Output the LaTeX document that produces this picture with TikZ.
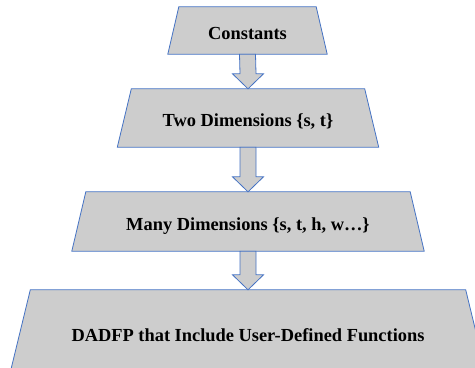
\documentclass[tikz,border=0pt]{standalone}
\usepackage{fontspec}
\setmainfont{Liberation Serif}
\usetikzlibrary{backgrounds,positioning}
\definecolor{boxgray}{RGB}{205,205,205}
\definecolor{boxblue}{RGB}{68,114,196}
\tikzset{
  level/.style={rectangle,inner sep=0pt,text=black,text height=17bp,text depth=0bp,
                font=\fontsize{18.4bp}{22bp}\selectfont\bfseries},
  shapeline/.style={draw=boxblue,fill=boxgray,line width=0.8bp,line join=miter}
}
% trapezium behind a level node: #1 node, #2 slant of the sides
\newcommand{\levelshape}[2]{\draw[shapeline] (#1.north west) -- (#1.north east)
      -- ([xshift=#2bp]#1.south east) -- ([xshift=-#2bp]#1.south west) -- cycle;}
% block arrow from node #1 down to node #2
\newcommand{\blockarrow}[2]{\draw[shapeline] ([xshift=-8bp]#1.south)
      -- ([xshift=-8bp,yshift=15bp]#2.north) -- ([xshift=-15.5bp,yshift=15bp]#2.north)
      -- (#2.north) -- ([xshift=15.5bp,yshift=15bp]#2.north)
      -- ([xshift=8bp,yshift=15bp]#2.north) -- ([xshift=8bp]#1.south) -- cycle;}

\begin{document}
\begin{tikzpicture}[x=1bp,y=-1bp]
  % frame of the picture
  \clip (0,0) rectangle (475,367);
  % Draw the four levels
  \node[level,minimum width=137bp,minimum height=47bp] (constants) at (247.5,30.5) {Constants};
  \node[level,minimum width=233bp,minimum height=58bp] (two) at (248,118) {Two Dimensions \{s, t\}};
  \node[level,minimum width=324bp,minimum height=59bp] (many) at (248,221.5) {Many Dimensions \{s, t, h, w…\}};
  \node[level,minimum width=435bp,minimum height=86bp] (dadfp) at (248,333) {DADFP that Include User-Defined Functions};
  \begin{scope}[on background layer]
    % trapezium shapes
    \levelshape{constants}{11}
    \levelshape{two}{14}
    \levelshape{many}{14}
    \levelshape{dadfp}{21}
    % Block arrows between levels
    \blockarrow{constants}{two}
    \blockarrow{two}{many}
    \blockarrow{many}{dadfp}
  \end{scope}
\end{tikzpicture}
\end{document}
